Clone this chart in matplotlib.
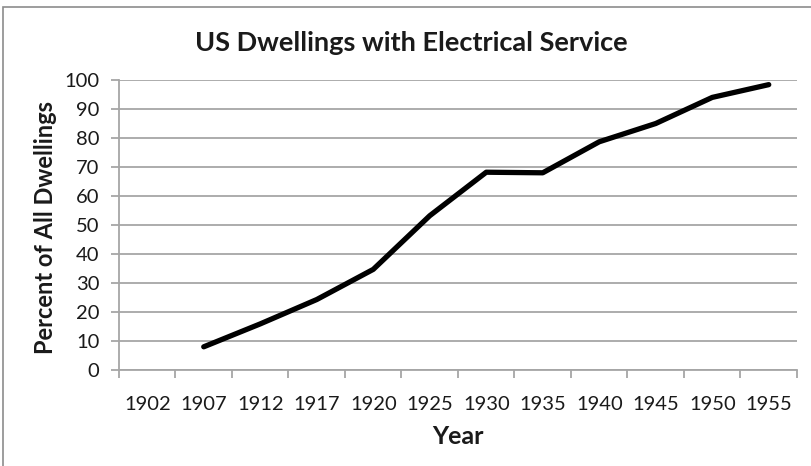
import numpy as np
import matplotlib
matplotlib.use("Agg")
import matplotlib.pyplot as plt
from matplotlib.patches import Rectangle

# Share of US dwellings with electric service, by survey year
years = ["1902", "1907", "1912", "1917", "1920", "1925",
         "1930", "1935", "1940", "1945", "1950", "1955"]
percent = [np.nan, 8.0, 15.9, 24.3, 34.7, 53.2,
           68.2, 68.0, 78.7, 85.0, 94.0, 98.4]
y_ticks = list(range(0, 101, 10))

GRID = "#a6a6a6"
TEXT = "#1a1a1a"

fig = plt.figure(figsize=(8.12, 4.66), dpi=100)
fig.patch.set_facecolor("white")

# chart frame (only top and left edges fall inside the canvas)
fig.add_artist(Rectangle((3 / 812, -0.2), 1.2, 1.2 - 7 / 466,
                         transform=fig.transFigure, fill=False,
                         edgecolor="#8c8c8c", linewidth=1.2))

ax = fig.add_axes([119 / 812, 1 - 370 / 466, 678 / 812, 290 / 466])
x = np.arange(len(years))
ax.plot(x, percent, color="black", linewidth=3.8,
        solid_capstyle="round", solid_joinstyle="round", zorder=3)

ax.set_xlim(-0.5, len(years) - 0.5)
ax.set_ylim(0, 100)

for s in ["top", "right"]:
    ax.spines[s].set_visible(False)
for s in ["left", "bottom"]:
    ax.spines[s].set_color(GRID)
    ax.spines[s].set_linewidth(1.3)

ax.set_yticks(y_ticks)
ax.set_yticklabels([str(t) for t in y_ticks], fontsize=14.5, family="Lato",
                   color=TEXT)
ax.yaxis.grid(True, color=GRID, linewidth=1.3)
ax.set_axisbelow(True)
ax.tick_params(axis="y", length=6, width=1.3, color=GRID, pad=8)

# labels centred on categories, tick marks on category boundaries
ax.set_xticks(x)
ax.set_xticklabels(years, fontsize=14.5, family="Lato", color=TEXT)
ax.set_xticks(np.arange(-0.5, len(years)), minor=True)
ax.tick_params(axis="x", which="major", length=0, pad=19)
ax.tick_params(axis="x", which="minor", length=6, width=1.3, color=GRID)

ax.set_xlabel("Year", fontsize=18, family="Lato", fontweight="bold",
              color=TEXT, labelpad=8)
ax.set_ylabel("Percent of All Dwellings", fontsize=17,
              family="Lato", fontweight="bold", color=TEXT,
              va="center")
ax.yaxis.set_label_coords(-0.108, 0.49)

fig.text(0.507, 1 - 43 / 466, "US Dwellings with Electrical Service",
         ha="center", va="center", fontsize=19.5, family="Lato",
         fontweight="bold", color=TEXT)

fig.savefig("out.png", dpi=100)
